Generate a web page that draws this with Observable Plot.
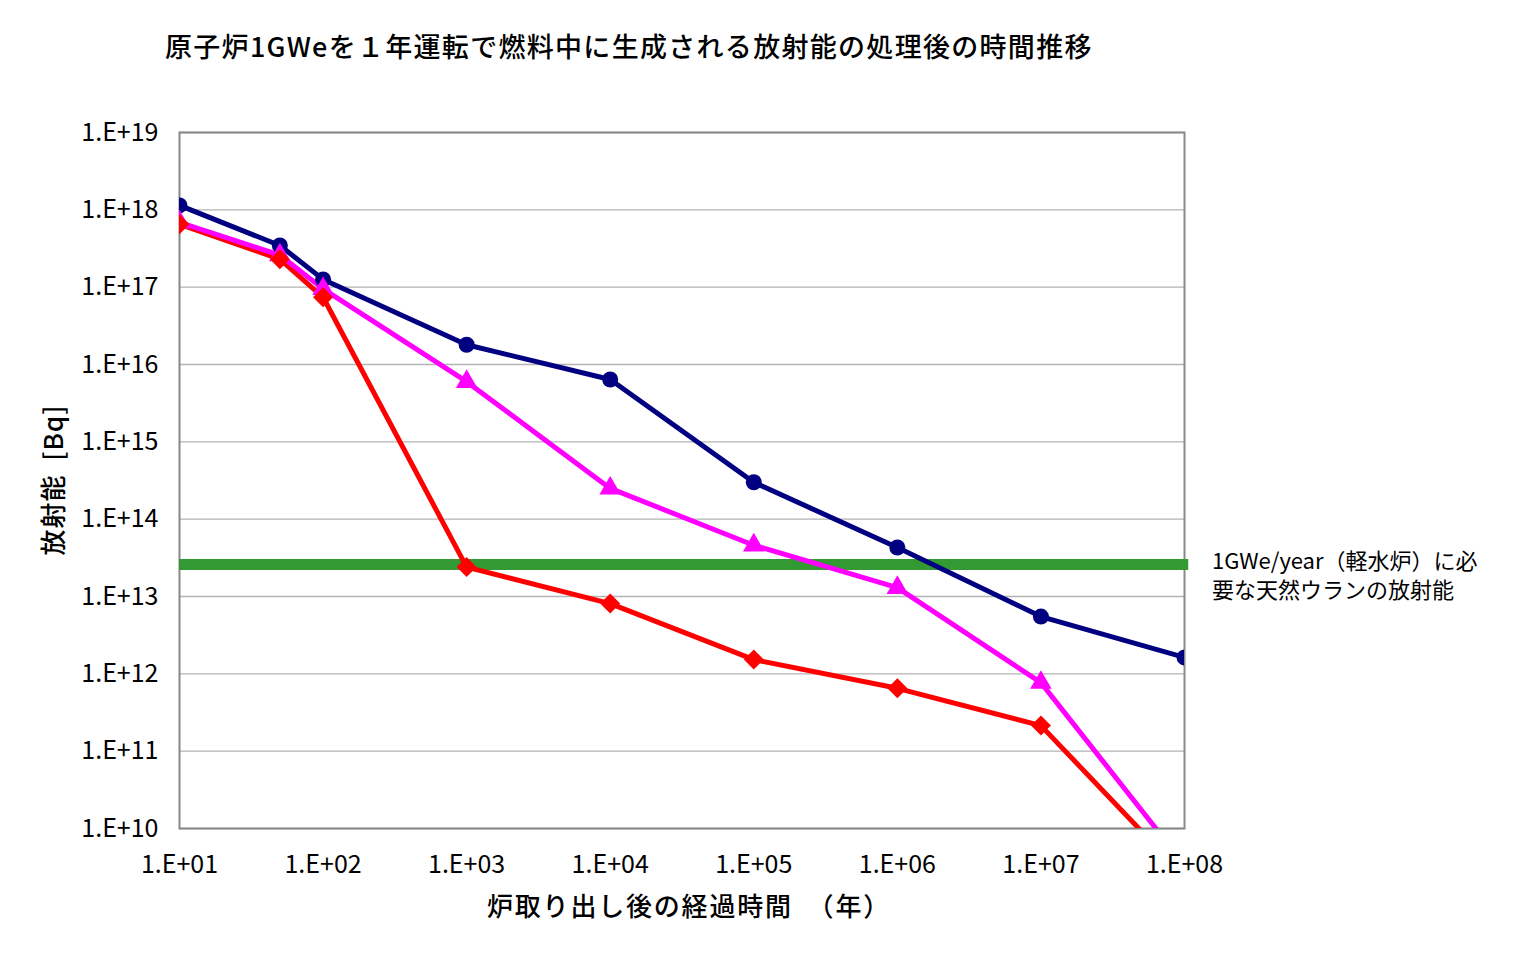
<!DOCTYPE html>
<html><head><meta charset="utf-8">
<script src="https://cdn.jsdelivr.net/npm/d3@7"></script>
<script src="https://cdn.jsdelivr.net/npm/@observablehq/plot@0.6"></script>
<style>
body{margin:0;background:#fff;font-family:"Noto Sans CJK JP",sans-serif;}
#wrap{position:relative;width:1536px;height:956px;}
#chart{position:absolute;left:0;top:0;}
.lbl{position:absolute;color:#000;white-space:nowrap;line-height:1;}
</style></head>
<body>
<div id="wrap">
<div id="chart"></div>
<div class="lbl" id="title" style="left:165px;top:32px;font-size:27px;font-weight:500;letter-spacing:1.3px;">原子炉1GWeを１年運転で燃料中に生成される放射能の処理後の時間推移</div>
<div class="lbl" id="xlabel" style="left:487px;top:892px;font-size:26px;font-weight:500;letter-spacing:1.8px;">炉取り出し後の経過時間　（年）</div>
<div class="lbl" id="ylabel" style="left:52px;top:480px;font-size:26px;font-weight:500;letter-spacing:1px;transform:translate(-50%,-50%) rotate(-90deg);">放射能&nbsp;&nbsp;[Bq]</div>
<div class="lbl" id="note1" style="left:1212px;top:548px;font-size:22px;">1GWe/year（軽水炉）に必</div>
<div class="lbl" id="note2" style="left:1212px;top:577px;font-size:22px;">要な天然ウランの放射能</div>
</div>
<script>
const years = [10, 50, 100, 1e3, 1e4, 1e5, 1e6, 1e7, 1e8];
const seriesNavy = [1.14e18, 3.46e17, 1.26e17, 1.8e16, 6.4e15, 3.0e14, 4.3e13, 5.5e12, 1.63e12];
const seriesMagenta = [6.9e17, 2.6e17, 9.5e16, 6.0e15, 2.5e14, 4.6e13, 1.3e13, 7.7e11, 3.4e9];
const seriesRed = [6.5e17, 2.3e17, 7.4e16, 2.4e13, 8.1e12, 1.53e12, 6.5e11, 2.14e11, 2.4e9];
const uraniumLevel = [2.6e13];
const uraniumSpan = [10, 1.07e8];
const xTicks = [1e1, 1e2, 1e3, 1e4, 1e5, 1e6, 1e7, 1e8];
const yTicks = [1e10, 1e11, 1e12, 1e13, 1e14, 1e15, 1e16, 1e17, 1e18, 1e19];

const fmt = v => { const e = Math.round(Math.log10(v)); return "1.E+" + String(e).padStart(2, "0"); };
const mk = (vals, name) => years.map((x, i) => ({x, y: vals[i], s: name}));
const navy = mk(seriesNavy, "navy"), mag = mk(seriesMagenta, "magenta"), red = mk(seriesRed, "red");

const chart = Plot.plot({
  width: 1536, height: 956,
  marginLeft: 179, marginRight: 352, marginTop: 132, marginBottom: 128,
  style: {fontFamily: "'Noto Sans CJK JP', sans-serif", fontSize: "25px", color: "#000", background: "#fff"},
  x: {type: "log", domain: [10, 1e8]},
  y: {type: "log", domain: [1e10, 1e19]},
  marks: [
    Plot.gridY(yTicks, {stroke: "#b3b3b3", strokeOpacity: 1, strokeWidth: 1.3}),
    Plot.frame({stroke: "#888", strokeWidth: 2}),
    Plot.axisY(yTicks, {tickFormat: fmt, tickSize: 0, tickPadding: 21, label: null, fontSize: 25}),
    Plot.axisX(xTicks, {tickFormat: fmt, tickSize: 0, tickPadding: 27, label: null, fontSize: 25}),
    Plot.ruleY(uraniumLevel, {x1: uraniumSpan[0], x2: uraniumSpan[1], stroke: "#339933", strokeWidth: 11}),
    Plot.line(red, {x: "x", y: "y", stroke: "#ff0000", strokeWidth: 5, clip: true}),
    Plot.line(mag, {x: "x", y: "y", stroke: "#ff00ff", strokeWidth: 5, clip: true}),
    Plot.line(navy, {x: "x", y: "y", stroke: "#000080", strokeWidth: 5, clip: true}),
    Plot.dot(navy, {x: "x", y: "y", fill: "#000080", r: 8, symbol: "circle", clip: true}),
    Plot.dot(mag, {x: "x", y: "y", fill: "#ff00ff", r: 8, symbol: "triangle", clip: true}),
    Plot.dot(red, {x: "x", y: "y", fill: "#ff0000", r: 9, symbol: "diamond2", clip: true})
  ]
});
document.getElementById("chart").appendChild(chart);
</script>
</body></html>
